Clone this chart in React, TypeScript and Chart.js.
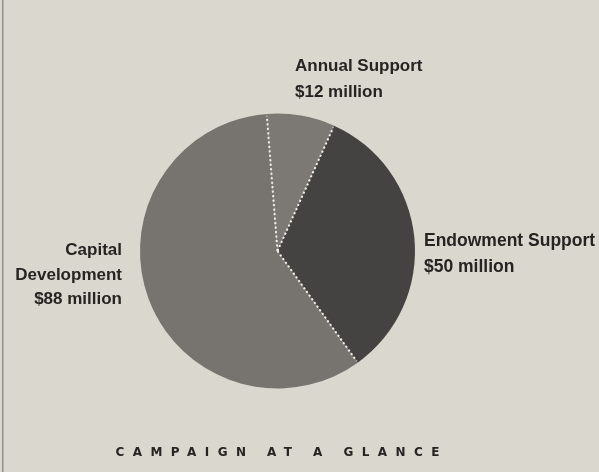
import React, { useEffect, useRef } from "react";
import { Chart, registerables } from "chart.js";

Chart.register(...registerables);

const categories = ["Annual Support", "Endowment Support", "Capital Development"];
const values = [12, 50, 88];
const valueLabels = ["$12 million", "$50 million", "$88 million"];
const sliceColors = ["#7c7975", "#454341", "#777470"];
const chartTitle = "CAMPAIGN AT A GLANCE";

const BG = "#dad7cf";
const INK = "#262422";
const FONT = '"Liberation Sans", Arial, sans-serif';

const overlayPlugin = {
  id: "overlay",
  beforeDraw(chart: any) {
    const { ctx, width, height } = chart;
    ctx.save();
    ctx.fillStyle = BG;
    ctx.fillRect(0, 0, width, height);
    ctx.fillStyle = "rgba(90,88,84,0.55)";
    ctx.fillRect(2, 0, 1.5, height);
    ctx.restore();
  },
  afterDatasetsDraw(chart: any) {
    const ctx = chart.ctx;
    const meta = chart.getDatasetMeta(0);
    const first = meta.data[0];
    const cx = first.x;
    const cy = first.y;
    const r = first.outerRadius;

    // dotted white separators along slice boundaries
    ctx.save();
    ctx.strokeStyle = "#f3f1eb";
    ctx.lineWidth = 2;
    ctx.setLineDash([2, 2.5]);
    meta.data.forEach((arc: any) => {
      const a = arc.startAngle;
      ctx.beginPath();
      ctx.moveTo(cx, cy);
      ctx.lineTo(cx + (r - 2) * Math.cos(a), cy + (r - 2) * Math.sin(a));
      ctx.stroke();
    });
    ctx.restore();

    // slice labels
    ctx.save();
    ctx.fillStyle = INK;
    ctx.textBaseline = "alphabetic";
    // Annual Support (above the pie)
    ctx.font = `bold 17px ${FONT}`;
    ctx.textAlign = "left";
    ctx.fillText(categories[0], cx + 17.5, cy - 180);
    ctx.fillText(valueLabels[0], cx + 17.5, cy - 154);
    // Endowment Support (right)
    ctx.font = `bold 17.5px ${FONT}`;
    ctx.fillText(categories[1], cx + 146.5, cy - 5);
    ctx.fillText(valueLabels[1], cx + 146.5, cy + 21);
    // Capital Development (left)
    ctx.font = `bold 17px ${FONT}`;
    ctx.textAlign = "right";
    ctx.fillText("Capital", cx - 155.5, cy + 4);
    ctx.fillText("Development", cx - 155.5, cy + 29);
    ctx.fillText(valueLabels[2], cx - 155.5, cy + 53);
    ctx.restore();

    // title with wide letter spacing
    ctx.save();
    ctx.fillStyle = INK;
    ctx.font = 'bold 12px "DejaVu Sans", sans-serif';
    ctx.textAlign = "left";
    const targetW = 324;
    const n = chartTitle.length;
    const w0 = ctx.measureText(chartTitle).width;
    const ls = (targetW - w0) / (n - 1);
    (ctx as any).letterSpacing = `${ls}px`;
    ctx.fillText(chartTitle, cx - targetW / 2, cy + 205);
    ctx.restore();
  },
};

export default function App() {
  const ref = useRef<HTMLCanvasElement | null>(null);

  useEffect(() => {
    if (!ref.current) return;
    const chart = new Chart(ref.current, {
      type: "pie",
      data: {
        labels: categories,
        datasets: [
          {
            data: values,
            backgroundColor: sliceColors,
            borderWidth: 0,
            hoverOffset: 0,
          },
        ],
      },
      options: {
        responsive: false,
        animation: false,
        rotation: -4.5,
        layout: { padding: { top: 113.5, bottom: 83.5, left: 140, right: 184 } },
        plugins: {
          legend: { display: false },
          tooltip: { enabled: false },
          title: { display: false },
        },
      },
      plugins: [overlayPlugin],
    });
    return () => chart.destroy();
  }, []);

  return (
    <div style={{ position: "fixed", left: 0, top: 0, width: 599, height: 472, background: BG }}>
      <canvas ref={ref} width={599} height={472} style={{ display: "block" }} />
    </div>
  );
}
